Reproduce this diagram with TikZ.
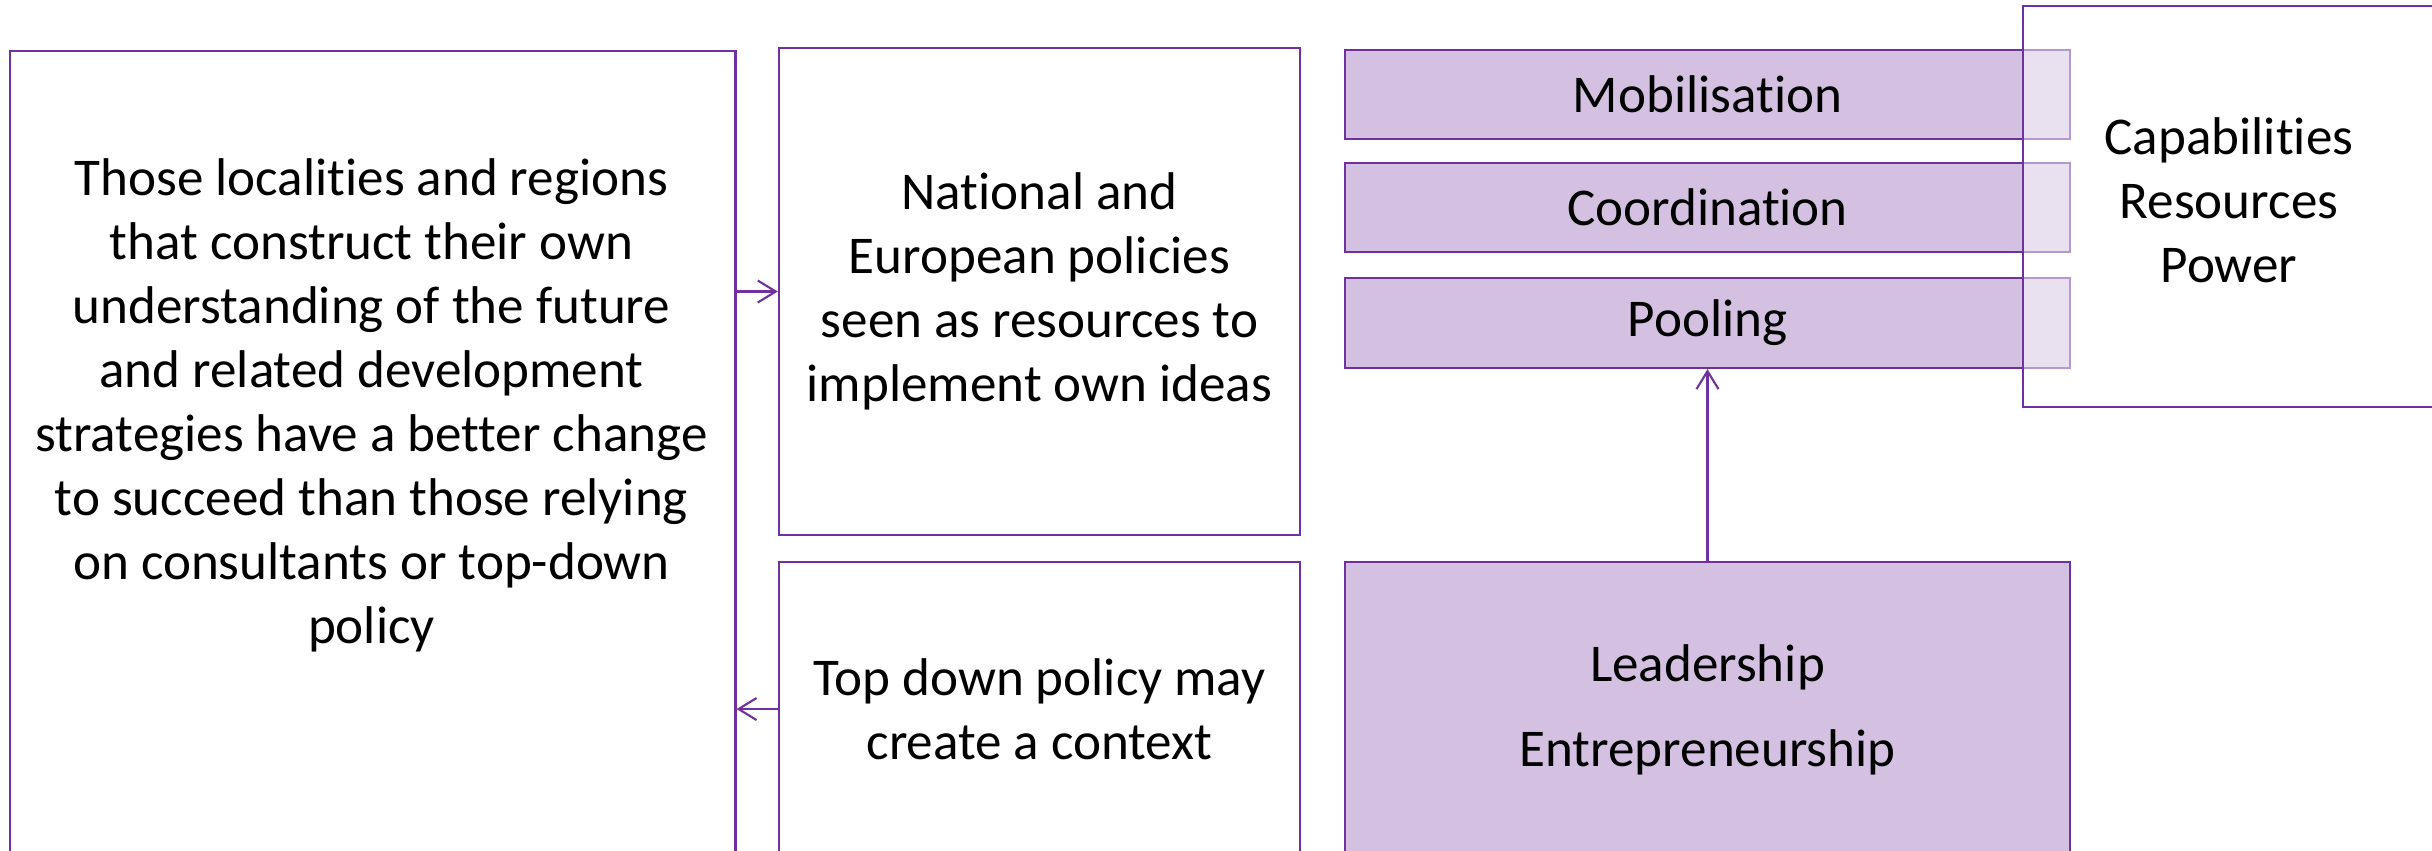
\documentclass[tikz,border=0pt]{standalone}
\usepackage{fontspec}
\setmainfont{Carlito}[Ligatures=NoCommon]
\usetikzlibrary{arrows.meta}
\definecolor{deepviolet}{HTML}{7030A0}
\definecolor{lavender}{HTML}{D4C1E2}

\begin{document}
\begin{tikzpicture}[x=0.01cm,y=-0.01cm,
  box/.style={draw=deepviolet, line width=0.6pt, align=center, inner sep=0pt,
    font=\fontsize{15.1}{18.2}\selectfont},
  filledbox/.style={box, fill=lavender, minimum width=7.25cm},
  conn/.style={draw=deepviolet, line width=0.6pt, -{Straight Barb[length=1.8mm,width=2.2mm]}}]
\useasboundingbox (0,0) rectangle (2432,850);

% left column
\node[box, anchor=north west, minimum width=7.25cm, minimum height=9cm] (local) at (9,50) {};
\node[box, draw=none] (localtext) at (371.5,405) {Those localities and regions\\
  that construct their own\\understanding of the future\\and related development\\
  strategies have a better change\\to succeed than those relying\\
  on consultants or top-down\\policy};

% middle column
\node[box, minimum width=5.21cm, minimum height=4.87cm] (national) at (1039.5,291.5)
  {National and\\European policies\\seen as resources to\\implement own ideas};
\node[box, minimum width=5.21cm, minimum height=2.94cm] (topdown) at (1039.5,709)
  {Top down policy may\\create a context};

% right column
\node[filledbox, minimum height=0.89cm] (mobil) at (1707.5,94.5) {Mobilisation};
\node[filledbox, minimum height=0.89cm] (coord) at (1707.5,207.5) {Coordination};
\node[filledbox, minimum height=0.90cm] (pooling) at (1707.5,323) {Pooling};
\node[filledbox, minimum height=2.96cm] (leader) at (1707.5,710)
  {Leadership\\[6pt]Entrepreneurship};
\node[box, fill=white, fill opacity=0.5, minimum width=4.12cm,
  minimum height=4.01cm] (capab) at (2229,206.5) {};
\node[box, draw=none] (capabtext) at (2229,200) {Capabilities\\Resources\\Power};

% connectors
\draw[conn] (local.east |- national.west) -- (national.west);
\draw[conn] (topdown.west) -- (topdown.west -| local.east);
\draw[conn] (leader.north) -- (pooling.south);
\end{tikzpicture}
\end{document}
